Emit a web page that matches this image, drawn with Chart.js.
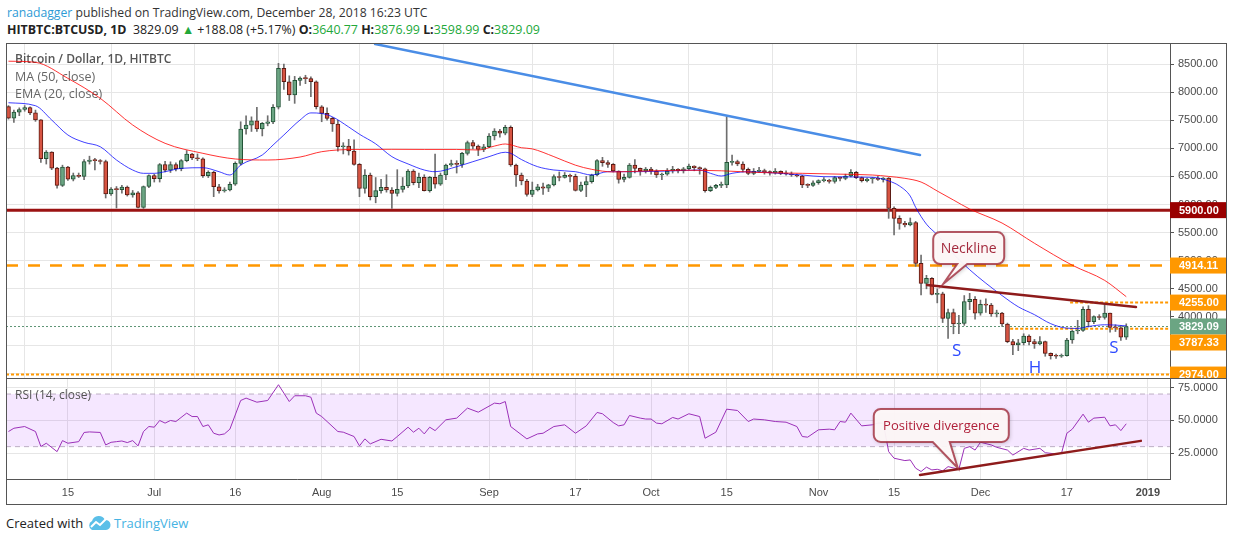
<!DOCTYPE html>
<html>
<head>
<meta charset="utf-8">
<script src="https://cdn.jsdelivr.net/npm/chart.js@4.4.0/dist/chart.umd.min.js"></script>
<style>
  body { margin: 0; width: 1234px; height: 541px; background: #fff; position: relative; overflow: hidden; font-family: "Open Sans", sans-serif; }
  .abs { position: absolute; }
  #hdr1 { left: 7px; top: 4px; font-size: 12.2px; color: #333; white-space: nowrap; }
  #hdr2 { left: 7px; top: 21px; font-size: 12.4px; color: #222; white-space: nowrap; }
  .g { color: #22a83a; }
  #frame { left: 6px; top: 43px; width: 1221px; height: 462px; box-sizing: border-box; border: 1px solid #555; pointer-events: none; z-index: 5; }
  #sep { left: 6px; top: 378px; width: 1221px; height: 1px; background: #555; z-index: 5; }
  #foot { left: 6px; top: 514px; font-size: 13px; color: #222; white-space: nowrap; display: flex; align-items: center; }
  #foot .tv { color: #45b3e3; }
</style>
</head>
<body>
<div id="hdr1" class="abs"><span style="color:#2e9bd6">ranadagger</span> published on TradingView.com, December 28, 2018 16:23 UTC</div>
<div id="hdr2" class="abs"><b>HITBTC:BTCUSD, 1D</b>&nbsp; 3829.09 <span class="g">&#9650;</span> +188.08 (+5.17%) <b>O:</b><span class="g">3640.77</span> <b>H:</b><span class="g">3876.99</span> <b>L:</b><span class="g">3598.99</span> <b>C:</b><span class="g">3829.09</span></div>
<canvas id="main" class="abs" width="1221" height="335" style="left:6px;top:43px"></canvas>
<canvas id="rsi" class="abs" width="1221" height="127" style="left:6px;top:378px"></canvas>
<div id="frame" class="abs"></div>
<div id="sep" class="abs"></div>
<div id="foot" class="abs">Created with&nbsp;<svg width="24" height="16" viewBox="0 0 24 16"><path d="M5 15 a5 5 0 0 1 0-9 a7 7 0 0 1 13-1 a5 5 0 0 1 1 10 z" fill="#5bbfe8"/><polyline points="4,12 9,7 13,10 19,4" fill="none" stroke="#fff" stroke-width="2"/></svg>&nbsp;<span class="tv">TradingView</span></div>
<script>
// day numbers count from 1 Jun 2018 (day 0); first candle is 4 Jun
const firstDay = 3;

const opens = [
  7742, 7536, 7643, 7690, 7725, 7630, 7506, 6814, 6933, 6648,
  6340, 6666, 6453, 6517, 6500, 6766, 6790, 6780, 6766, 6187,
  6276, 6265, 6310, 6170, 6210, 5950, 6320, 6517, 6460, 6712,
  6610, 6712, 6640, 6780, 6899, 6830, 6815, 6512, 6573, 6316,
  6240, 6260, 6360, 6733, 7343, 7414, 7491, 7343, 7443, 7470,
  7730, 8423, 8185, 7948, 8210, 8250, 8240, 8185, 7740, 7623,
  7534, 7432, 7028, 7040, 6952, 6715, 6288, 6525, 6139, 6246,
  6306, 6258, 6199, 6270, 6329, 6596, 6388, 6484, 6246, 6484,
  6360, 6525, 6703, 6730, 6715, 6911, 7100, 7040, 6982, 7028,
  7219, 7308, 7270, 7374, 6703, 6525, 6418, 6181, 6258, 6316,
  6290, 6350, 6495, 6480, 6520, 6500, 6250, 6347, 6406, 6525,
  6780, 6745, 6715, 6596, 6448, 6483, 6703, 6644, 6596, 6632,
  6596, 6525, 6540, 6596, 6626, 6596, 6637, 6685, 6655, 6637,
  6246, 6305, 6340, 6347, 6751, 6763, 6721, 6626, 6555, 6590,
  6600, 6584, 6560, 6590, 6555, 6543, 6525, 6507, 6347, 6340,
  6388, 6424, 6430, 6410, 6478, 6466, 6507, 6573, 6478, 6424,
  6454, 6466, 6448, 6470, 5932, 5754, 5665, 5635, 5677, 4954,
  4598, 4687, 4400, 4410, 3975, 4075, 3874, 3886, 4273, 4315,
  4066, 4226, 4210, 4054, 4066, 3874, 3559, 3500, 3540, 3660,
  3560, 3520, 3560, 3352, 3310, 3300, 3310, 3589, 3750, 3760,
  4137, 3915, 4004, 3990, 4066, 3815, 3805, 3640.77
];
const highs = [
  7760, 7680, 7720, 7760, 7740, 7680, 7510, 6960, 6940, 6660,
  6700, 6680, 6560, 6560, 6800, 6860, 6820, 6800, 6790, 6300,
  6320, 6340, 6330, 6250, 6230, 6330, 6530, 6540, 6730, 6770,
  6760, 6740, 6800, 6960, 6910, 6900, 6830, 6600, 6590, 6360,
  6300, 6400, 6760, 7473, 7580, 7560, 7730, 7460, 7580, 7780,
  8512, 8500, 8290, 8280, 8270, 8300, 8270, 8200, 7760, 7720,
  7550, 7500, 7100, 7160, 7150, 6730, 6620, 6560, 6480, 6450,
  6530, 6300, 6620, 6480, 6620, 6620, 6560, 6530, 6500, 6899,
  6560, 6720, 6790, 6780, 6930, 7130, 7140, 7060, 7070, 7260,
  7350, 7340, 7410, 7400, 6720, 6560, 6450, 6400, 6360, 6380,
  6360, 6530, 6580, 6570, 6540, 6540, 6400, 6500, 6540, 6800,
  6840, 6780, 6730, 6600, 6540, 6730, 6800, 6650, 6660, 6660,
  6620, 6560, 6640, 6680, 6640, 6660, 6720, 6690, 6670, 6650,
  6330, 6360, 6400, 7563, 6880, 6790, 6760, 6650, 6640, 6660,
  6630, 6600, 6640, 6600, 6600, 6580, 6540, 6520, 6370, 6420,
  6440, 6480, 6450, 6500, 6490, 6540, 6620, 6590, 6490, 6470,
  6480, 6500, 6480, 6480, 5960, 5800, 5700, 5760, 5700, 5100,
  4740, 4700, 4500, 4440, 4140, 4140, 4030, 4380, 4420, 4360,
  4300, 4320, 4240, 4120, 4080, 3890, 3600, 3600, 3700, 3680,
  3600, 3650, 3570, 3360, 3340, 3340, 3620, 3760, 3940, 4180,
  4200, 4020, 4040, 4243, 4070, 3860, 3840, 3876.99
];
const lows = [
  7520, 7460, 7580, 7660, 7600, 7480, 6750, 6720, 6620, 6290,
  6320, 6430, 6420, 6480, 6440, 6720, 6614, 6720, 6116, 6160,
  5938, 6200, 6150, 6130, 5940, 5930, 6300, 6400, 6400, 6580,
  6570, 6600, 6600, 6760, 6800, 6780, 6480, 6480, 6140, 6200,
  6220, 6240, 6340, 6700, 7250, 7300, 7300, 7220, 7400, 7440,
  7700, 8050, 7850, 7800, 8120, 8150, 7918, 7700, 7473, 7500,
  7300, 6950, 6900, 6880, 6700, 6139, 6200, 6080, 6030, 6200,
  6220, 5930, 6150, 6220, 6300, 6350, 6300, 6240, 6220, 6290,
  6340, 6440, 6680, 6560, 6660, 6880, 6990, 6870, 6940, 7010,
  7150, 7200, 7240, 6680, 6320, 6350, 6150, 6140, 6240, 6180,
  6230, 6330, 6420, 6470, 6400, 6240, 6230, 6140, 6380, 6510,
  6680, 6660, 6580, 6380, 6400, 6470, 6560, 6520, 6560, 6540,
  6480, 6440, 6520, 6560, 6560, 6560, 6620, 6600, 6540, 6220,
  6230, 6280, 6300, 6300, 6700, 6690, 6580, 6530, 6530, 6570,
  6540, 6520, 6540, 6530, 6520, 6500, 6490, 6300, 6300, 6320,
  6360, 6400, 6380, 6380, 6420, 6440, 6490, 6460, 6400, 6400,
  6380, 6430, 6400, 5754, 5457, 5560, 5600, 5620, 4900, 4390,
  4500, 4390, 4250, 3900, 3619, 3700, 3700, 3850, 4130, 3960,
  4030, 4080, 4010, 4000, 3830, 3540, 3330, 3400, 3500, 3500,
  3440, 3500, 3300, 3250, 3260, 3280, 3300, 3530, 3700, 3740,
  3820, 3880, 3950, 3960, 3730, 3740, 3580, 3598.99
];
const closes = [
  7536, 7643, 7690, 7725, 7630, 7506, 6814, 6933, 6648, 6340,
  6666, 6453, 6517, 6500, 6766, 6790, 6780, 6766, 6187, 6276,
  6265, 6310, 6170, 6210, 5950, 6320, 6517, 6460, 6712, 6610,
  6712, 6640, 6780, 6899, 6830, 6815, 6512, 6573, 6316, 6240,
  6260, 6360, 6733, 7343, 7414, 7491, 7343, 7443, 7470, 7730,
  8423, 8185, 7948, 8210, 8250, 8240, 8185, 7740, 7623, 7534,
  7432, 7028, 7040, 6952, 6715, 6288, 6525, 6139, 6246, 6306,
  6258, 6199, 6270, 6329, 6596, 6388, 6484, 6246, 6484, 6360,
  6525, 6703, 6730, 6715, 6911, 7100, 7040, 6982, 7028, 7219,
  7308, 7270, 7374, 6703, 6525, 6418, 6181, 6258, 6316, 6290,
  6350, 6495, 6480, 6520, 6500, 6250, 6347, 6406, 6525, 6780,
  6745, 6715, 6596, 6448, 6483, 6703, 6644, 6596, 6632, 6596,
  6525, 6540, 6596, 6626, 6596, 6637, 6685, 6655, 6637, 6246,
  6305, 6340, 6347, 6751, 6763, 6721, 6626, 6555, 6590, 6600,
  6584, 6560, 6590, 6555, 6543, 6525, 6507, 6347, 6340, 6388,
  6424, 6430, 6410, 6478, 6466, 6507, 6573, 6478, 6424, 6454,
  6466, 6448, 6470, 5932, 5754, 5665, 5635, 5677, 4954, 4598,
  4687, 4400, 4410, 3975, 4075, 3874, 3886, 4273, 4315, 4066,
  4226, 4210, 4054, 4066, 3874, 3559, 3500, 3540, 3660, 3560,
  3520, 3560, 3352, 3310, 3300, 3310, 3589, 3750, 3760, 4137,
  3915, 4004, 3990, 4066, 3815, 3805, 3640.77, 3829.09
];

// MA (50) and EMA (20)
const maDays = [3, 8, 14, 20, 26, 32, 39, 45, 51, 57, 61, 67, 74, 80, 86, 90, 93, 95, 98, 100,
  104, 108, 111, 115, 121, 128, 135, 142, 150, 157, 163, 166, 169, 172, 175, 178, 181, 187, 193, 200, 206, 210];
const maValues = [8550, 8530, 8245, 7890, 7415, 7089, 6911, 6810, 6792, 6845, 6940, 6980, 6982, 6980, 6980, 6970, 7040, 7077, 7010, 6990,
  6852, 6700, 6626, 6580, 6596, 6610, 6600, 6570, 6555, 6540, 6525, 6500, 6466, 6400, 6240, 6080, 5920, 5670, 5310, 4920, 4650, 4360];
const emaDays = [3, 8, 11, 14, 17, 20, 23, 26, 28, 30, 32, 35, 39, 42, 44, 46, 50, 52, 54, 57,
  59, 61, 63, 66, 68, 71, 74, 77, 80, 82, 86, 89, 92, 95, 96, 98, 101, 104, 108, 111,
  114, 119, 125, 131, 133, 135, 137, 140, 144, 150, 154, 163, 166, 168, 170, 171, 173, 175, 178, 181,
  184, 187, 190, 193, 196, 199, 201, 203, 206, 208, 210];
const emaValues = [7811, 7758, 7504, 7237, 7107, 7028, 6792, 6614, 6555, 6555, 6584, 6644, 6655, 6584, 6525, 6703, 6881, 7059, 7237, 7504,
  7630, 7620, 7560, 7380, 7250, 7080, 6852, 6722, 6614, 6584, 6673, 6762, 6852, 6930, 6911, 6800, 6673, 6614, 6584, 6525,
  6584, 6584, 6596, 6614, 6555, 6507, 6555, 6584, 6566, 6525, 6495, 6484, 6420, 6330, 6150, 5950, 5650, 5460, 5120, 4840,
  4600, 4380, 4180, 4040, 3880, 3800, 3795, 3830, 3860, 3855, 3840];

// RSI (14)
const rsiDays = [3, 4, 6, 8, 9, 10, 12, 13, 14, 16, 17, 18, 20, 21, 22, 23, 24, 25, 26, 27,
  28, 29, 30, 31, 32, 33, 34, 36, 37, 38, 39, 40, 41, 42, 43, 44, 46, 47, 49, 51,
  53, 55, 56, 58, 59, 60, 61, 62, 64, 65, 67, 68, 69, 70, 72, 74, 75, 77, 78, 79,
  80, 81, 82, 84, 86, 88, 90, 93, 94, 95, 96, 99, 101, 102, 104, 106, 108, 110, 112, 113,
  115, 116, 117, 118, 120, 121, 122, 123, 124, 126, 127, 129, 131, 132, 134, 136, 138, 140, 141, 143,
  145, 147, 149, 150, 151, 153, 155, 156, 157, 158, 159, 161, 163, 164, 165, 166, 167, 169, 170, 171,
  172, 173, 174, 175, 176, 177, 179, 180, 181, 182, 183, 185, 186, 188, 189, 191, 192, 194, 195, 197,
  198, 199, 200, 202, 203, 204, 206, 207, 208, 209, 210];
const rsiValues = [41.5, 44, 45.3, 41.5, 30.1, 32.6, 26.2, 34.6, 32.6, 33.8, 40.8, 41.2, 40.8, 31.3, 33.3, 33.8, 34.3, 33.1, 34.6, 30.6,
  41.5, 45.3, 44.8, 49.9, 47.9, 49.9, 49.1, 55.5, 52.9, 52.9, 45.3, 46.6, 40.2, 38.9, 39.7, 43.3, 65.1, 66.9, 63.8, 65.1,
  77.1, 64.3, 68.7, 68.7, 67.6, 55.5, 52.9, 49.1, 41.5, 41, 37.7, 30.6, 35.9, 32.1, 35.6, 34.3, 37.7, 44.8, 41, 44,
  39.7, 44.8, 42.2, 50.4, 51.7, 59.3, 56.2, 63.1, 62.6, 64.3, 45.3, 35.9, 39.7, 40.2, 45.3, 46.6, 40.2, 45.8, 56, 55,
  48.3, 45.8, 46.6, 53.7, 51.7, 51, 51, 47.9, 47.4, 52.2, 51, 55, 52.9, 36.4, 41, 58.5, 57.5, 49.1, 51, 50.4,
  49.1, 48.6, 45.3, 37.7, 37.2, 42.8, 43.3, 42.8, 49.1, 48.6, 55.5, 45.8, 46.6, 47.9, 47.9, 26.2, 21.2, 19.4, 19.9, 13.6,
  11.1, 14.4, 12.3, 12.8, 11.6, 14.8, 12.8, 28.7, 30, 27.4, 33.3, 31.3, 29.5, 27.4, 23.6, 28.7, 27.4, 28.7, 25.4, 24.4,
  24.9, 40.2, 43.3, 54.7, 48.6, 51.7, 52.4, 45.8, 46.6, 42.2, 47.4];

// axes
const timeTickDays = [14, 30, 45, 61, 75, 92, 108, 122, 136, 153, 167, 183, 199, 214];
const timeTickLabels = ['15', 'Jul', '16', 'Aug', '15', 'Sep', '17', 'Oct', '15', 'Nov', '15', 'Dec', '17', '2019'];
const priceTicks = [3000, 3500, 4000, 4500, 5000, 5500, 6000, 6500, 7000, 7500, 8000, 8500];
const rsiTicks = [25, 50, 75];

// drawings
const levelPrices = [5900, 4914.11, 4255, 3829.09, 3787.33, 2974];
const levelFromDays = [null, null, 199.6, null, 188.5, null];
const trendBlue = [[70.9, 8856], [171.8, 6881]];
const neckline = [[173.1, 4568], [211.8, 4176]];
const necklineTip = [176.1, 4585];
const patternLabels = ['S', 'H', 'S'];
const patternDays = [178.6, 193.1, 207.7];
const patternPrices = [3393, 3091, 3447];
const rsiTrend = [[171.8, 8.5], [212.7, 34.4]];
const divergenceTip = [178.8, 13.8];

const xMin = 2.54, xMax = 218.1;
const candleDays = opens.map((_, i) => firstDay + i);
const isUp = closes.map((c, i) => c >= opens[i]);

const axisFont = { family: 'Liberation Sans', size: 11 };
const gridColor = '#e6e6e6';

function callout(ctx, tipX, tipY, bx, by, bw, bh, b1, b2, text, font, color) {
  const r = 7;
  ctx.save();
  ctx.beginPath();
  ctx.moveTo(bx + r, by);
  ctx.lineTo(bx + bw - r, by);
  ctx.arcTo(bx + bw, by, bx + bw, by + r, r);
  ctx.lineTo(bx + bw, by + bh - r);
  ctx.arcTo(bx + bw, by + bh, bx + bw - r, by + bh, r);
  ctx.lineTo(b2, by + bh);
  ctx.lineTo(tipX, tipY);
  ctx.lineTo(b1, by + bh);
  ctx.lineTo(bx + r, by + bh);
  ctx.arcTo(bx, by + bh, bx, by + bh - r, r);
  ctx.lineTo(bx, by + r);
  ctx.arcTo(bx, by, bx + r, by, r);
  ctx.closePath();
  ctx.shadowColor = 'rgba(0,0,0,0.25)';
  ctx.shadowBlur = 4;
  ctx.shadowOffsetX = 1;
  ctx.shadowOffsetY = 1;
  ctx.fillStyle = 'rgba(255,249,249,0.95)';
  ctx.fill();
  ctx.shadowColor = 'transparent';
  ctx.strokeStyle = 'rgba(160,45,60,0.8)';
  ctx.lineWidth = 2;
  ctx.stroke();
  ctx.fillStyle = color;
  ctx.font = font;
  ctx.textAlign = 'center';
  ctx.textBaseline = 'middle';
  ctx.fillText(text, bx + bw / 2, by + bh / 2 + 1);
  ctx.restore();
}

function segment(ctx, x1, y1, x2, y2, color, width) {
  ctx.beginPath();
  ctx.moveTo(x1, y1);
  ctx.lineTo(x2, y2);
  ctx.strokeStyle = color;
  ctx.lineWidth = width;
  ctx.stroke();
}

const levelStyles = [
  { color: '#9b1212', width: 3, dash: [], box: '#990000' },
  { color: '#ff9800', width: 2.5, dash: [12, 10], box: '#ff9800' },
  { color: '#ff9800', width: 2, dash: [3, 2], box: '#ff9800' },
  { color: '#5e9475', width: 1, dash: [2, 2], box: '#6ba583' },
  { color: '#ff9800', width: 2, dash: [3, 2], box: '#ff9800' },
  { color: '#ff9800', width: 2, dash: [3, 2], box: '#ff9800' }
];

const mainPlugin = {
  id: 'mainDrawings',
  beforeDatasetsDraw(chart) {
    const { ctx, chartArea: a, scales: { x, y } } = chart;
    ctx.save();
    ctx.beginPath();
    ctx.rect(a.left, a.top, a.right - a.left, a.bottom - a.top);
    ctx.clip();
    levelPrices.forEach((p, i) => {
      const s = levelStyles[i];
      const py = y.getPixelForValue(p);
      const x0 = levelFromDays[i] === null ? a.left : x.getPixelForValue(levelFromDays[i]);
      ctx.setLineDash(s.dash);
      segment(ctx, x0, py, a.right, py, s.color, s.width);
    });
    ctx.setLineDash([]);
    // legend text
    ctx.textBaseline = 'middle';
    ctx.fillStyle = '#555';
    ctx.font = '600 12px "Open Sans"';
    ctx.fillText('Bitcoin / Dollar, 1D, HITBTC', a.left + 9, a.top + 17);
    ctx.fillStyle = '#666';
    ctx.font = '12.5px "Open Sans"';
    ctx.fillText('MA (50, close)', a.left + 9, a.top + 34);
    ctx.fillText('EMA (20, close)', a.left + 9, a.top + 51);
    ctx.restore();
  },
  afterDatasetsDraw(chart) {
    const { ctx, chartArea: a, scales: { x, y } } = chart;
    ctx.save();
    ctx.beginPath();
    ctx.rect(a.left, a.top, a.right - a.left, a.bottom - a.top);
    ctx.clip();
    ctx.lineCap = 'round';
    segment(ctx, x.getPixelForValue(trendBlue[0][0]), y.getPixelForValue(trendBlue[0][1]),
      x.getPixelForValue(trendBlue[1][0]), y.getPixelForValue(trendBlue[1][1]), '#4a8de6', 2.5);
    segment(ctx, x.getPixelForValue(neckline[0][0]), y.getPixelForValue(neckline[0][1]),
      x.getPixelForValue(neckline[1][0]), y.getPixelForValue(neckline[1][1]), '#8e1b1b', 2.5);
    const tx = x.getPixelForValue(necklineTip[0]);
    const ty = y.getPixelForValue(necklineTip[1]);
    callout(ctx, tx, ty, tx - 10, ty - 52, 71, 32, tx + 14, tx + 24, 'Neckline', '14px "Open Sans"', '#a3283c');
    ctx.fillStyle = '#2f4bff';
    ctx.font = '17px "Open Sans"';
    ctx.textAlign = 'center';
    ctx.textBaseline = 'middle';
    patternLabels.forEach((t, i) => {
      ctx.fillText(t, x.getPixelForValue(patternDays[i]), y.getPixelForValue(patternPrices[i]));
    });
    ctx.restore();
  },
  afterDraw(chart) {
    const { ctx, chartArea: a, scales: { y } } = chart;
    const boxes = levelPrices.map((p, i) => ({ p, i, cy: y.getPixelForValue(p) })).sort((m, n) => m.cy - n.cy);
    let lastBottom = -100;
    ctx.save();
    ctx.font = 'bold 11px "Liberation Sans"';
    ctx.textBaseline = 'middle';
    boxes.forEach(b => {
      let top = b.cy - 8;
      if (top < lastBottom) top = lastBottom;
      lastBottom = top + 16;
      ctx.fillStyle = levelStyles[b.i].box;
      ctx.fillRect(a.right, top, 57, 16);
      ctx.fillStyle = '#fff';
      ctx.fillText(b.p.toFixed(2), a.right + 9, top + 8.5);
    });
    ctx.restore();
  }
};

new Chart(document.getElementById('main'), {
  type: 'bar',
  data: {
    datasets: [
      {
        type: 'line', label: 'MA (50, close)', order: 1,
        data: maDays.map((d, i) => ({ x: d, y: maValues[i] })),
        borderColor: 'rgba(255,0,0,0.8)', borderWidth: 1, pointRadius: 0, cubicInterpolationMode: 'monotone'
      },
      {
        type: 'line', label: 'EMA (20, close)', order: 1,
        data: emaDays.map((d, i) => ({ x: d, y: emaValues[i] })),
        borderColor: 'rgba(0,0,255,0.75)', borderWidth: 1, pointRadius: 0, cubicInterpolationMode: 'monotone'
      },
      {
        label: 'wicks', order: 3, grouped: false,
        data: candleDays.map((d, i) => ({ x: d, y: [lows[i], highs[i]] })),
        backgroundColor: '#6e6e6e', barThickness: 1
      },
      {
        label: 'bodies', order: 2, grouped: false,
        data: candleDays.map((d, i) => ({ x: d, y: [opens[i], closes[i]] })),
        backgroundColor: isUp.map(u => u ? '#6ba583' : '#d75442'),
        borderColor: isUp.map(u => u ? '#225437' : '#5b1a13'),
        borderWidth: 1, borderSkipped: false, barThickness: 4, minBarLength: 1
      }
    ]
  },
  options: {
    responsive: false,
    animation: false,
    events: [],
    layout: { padding: 0 },
    plugins: { legend: { display: false }, tooltip: { enabled: false } },
    scales: {
      x: {
        type: 'linear', min: xMin, max: xMax, offset: false,
        grid: { color: gridColor, drawTicks: false },
        border: { display: false },
        ticks: { display: false },
        afterBuildTicks: s => { s.ticks = timeTickDays.map(v => ({ value: v })); },
        afterFit: s => { s.height = 0; }
      },
      y: {
        type: 'linear', position: 'right', min: 2913, max: 8874,
        grid: { color: gridColor, tickLength: 4, tickColor: '#555' },
        border: { display: true, color: '#555' },
        ticks: { color: '#4a4a4a', font: axisFont, padding: 4, callback: v => v.toFixed(2) },
        afterBuildTicks: s => { s.ticks = priceTicks.map(v => ({ value: v })); },
        afterFit: s => { s.width = 57; s.paddingTop = 0; s.paddingBottom = 0; }
      }
    }
  },
  plugins: [mainPlugin]
});

const rsiPlugin = {
  id: 'rsiDrawings',
  beforeDatasetsDraw(chart) {
    const { ctx, chartArea: a, scales: { y } } = chart;
    const y70 = y.getPixelForValue(70);
    const y30 = y.getPixelForValue(30);
    ctx.save();
    ctx.fillStyle = 'rgba(153,21,255,0.1)';
    ctx.fillRect(a.left, y70, a.right - a.left, y30 - y70);
    ctx.setLineDash([5, 4]);
    segment(ctx, a.left, y70, a.right, y70, '#bcaec4', 1);
    segment(ctx, a.left, y30, a.right, y30, '#bcaec4', 1);
    ctx.setLineDash([]);
    ctx.fillStyle = '#555';
    ctx.font = '12px "Open Sans"';
    ctx.textBaseline = 'middle';
    ctx.fillText('RSI (14, close)', a.left + 9, a.top + 18);
    ctx.restore();
  },
  afterDatasetsDraw(chart) {
    const { ctx, chartArea: a, scales: { x, y } } = chart;
    ctx.save();
    ctx.beginPath();
    ctx.rect(a.left, a.top, a.right - a.left, a.bottom - a.top);
    ctx.clip();
    ctx.lineCap = 'round';
    segment(ctx, x.getPixelForValue(rsiTrend[0][0]), y.getPixelForValue(rsiTrend[0][1]),
      x.getPixelForValue(rsiTrend[1][0]), y.getPixelForValue(rsiTrend[1][1]), '#8e1b1b', 2.5);
    const tx = x.getPixelForValue(divergenceTip[0]);
    const ty = y.getPixelForValue(divergenceTip[1]);
    callout(ctx, tx, ty, tx - 84, ty - 59, 135, 33, tx - 25, tx - 8, 'Positive divergence', '13px "Open Sans"', '#b0203a');
    ctx.restore();
  }
};

new Chart(document.getElementById('rsi'), {
  type: 'line',
  data: {
    datasets: [{
      label: 'RSI (14, close)',
      data: rsiDays.map((d, i) => ({ x: d, y: rsiValues[i] })),
      borderColor: '#9b30b8', borderWidth: 1, pointRadius: 0, tension: 0
    }]
  },
  options: {
    responsive: false,
    animation: false,
    events: [],
    layout: { padding: 0 },
    plugins: { legend: { display: false }, tooltip: { enabled: false } },
    scales: {
      x: {
        type: 'linear', min: xMin, max: xMax, offset: false,
        grid: { color: gridColor, drawTicks: false },
        border: { display: true, color: '#555' },
        ticks: {
          color: '#4a4a4a', padding: 7, autoSkip: false, maxRotation: 0,
          font: c => ({ family: 'Liberation Sans', size: 11, weight: c.index === timeTickLabels.length - 1 ? 'bold' : 'normal' }),
          callback: (v, i) => timeTickLabels[i]
        },
        afterBuildTicks: s => { s.ticks = timeTickDays.map(v => ({ value: v })); },
        afterFit: s => { s.height = 26; s.paddingLeft = 0; s.paddingRight = 0; }
      },
      y: {
        type: 'linear', position: 'right', min: 5.4, max: 82.2,
        grid: { color: gridColor, tickLength: 4, tickColor: '#555' },
        border: { display: true, color: '#555' },
        ticks: { color: '#4a4a4a', font: axisFont, padding: 4, callback: v => v.toFixed(4) },
        afterBuildTicks: s => { s.ticks = rsiTicks.map(v => ({ value: v })); },
        afterFit: s => { s.width = 57; s.paddingTop = 0; s.paddingBottom = 0; }
      }
    }
  },
  plugins: [rsiPlugin]
});
</script>
</body>
</html>
